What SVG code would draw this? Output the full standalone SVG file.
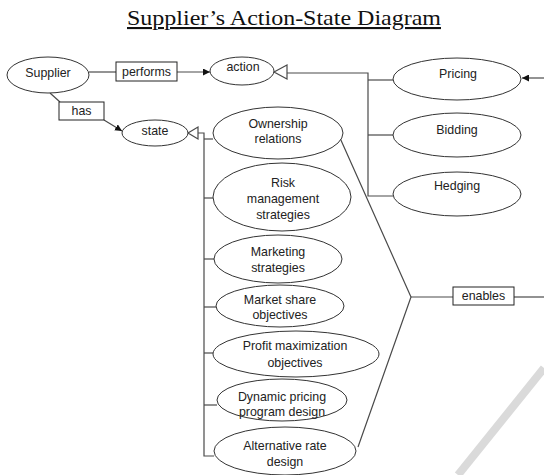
<svg xmlns="http://www.w3.org/2000/svg" width="544" height="475" viewBox="0 0 544 475">
<defs>
<style>
.n ellipse{fill:#fff;stroke:#333;stroke-width:1}
.t{font-family:"Liberation Sans",Arial,sans-serif;font-size:12.4px;fill:#222;text-anchor:middle}
.c line,.c polyline{stroke:#4a4a4a;stroke-width:1.2;fill:none}
.lb rect{fill:#fff;stroke:#222;stroke-width:1}
</style>
<marker id="fa" viewBox="0 0 10 10" refX="10" refY="5" markerWidth="7" markerHeight="7" orient="auto" markerUnits="userSpaceOnUse"><path d="M0,0 L10,5 L0,10 z" fill="#111"/></marker>
</defs>
<rect width="544" height="475" fill="#fff"/>
<line x1="544" y1="368" x2="458" y2="475" stroke="#dadada" stroke-width="8"/>
<text x="284" y="25" font-family="'Liberation Serif','Times New Roman',serif" font-size="21" text-anchor="middle" text-decoration="underline" fill="#111" textLength="314" lengthAdjust="spacingAndGlyphs">Supplier’s Action-State Diagram</text>

<g class="c" id="connectors">
<line x1="89" y1="72" x2="116" y2="72"/>
<line x1="177" y1="72" x2="210" y2="72" marker-end="url(#fa)"/>
<line x1="50" y1="93" x2="60" y2="102"/>
<line x1="104" y1="120" x2="122" y2="131" marker-end="url(#fa)"/>
<polygon points="274,72 287,65 287,79" fill="#fff" stroke="#4a4a4a" stroke-width="1.2"/>
<polyline points="287,73 368,73 368,196 393,196"/>
<line x1="368" y1="80" x2="393" y2="80"/>
<line x1="368" y1="135" x2="393" y2="135"/>
<line x1="544" y1="78" x2="522" y2="78" marker-end="url(#fa)"/>
<polygon points="188,133 198,127 198,139" fill="#fff" stroke="#4a4a4a" stroke-width="1.2"/>
<polyline points="198,133 204,133 204,456 214,456"/>
<line x1="204" y1="139" x2="213" y2="139"/>
<line x1="204" y1="198" x2="213" y2="198"/>
<line x1="204" y1="259" x2="214" y2="259"/>
<line x1="204" y1="307" x2="216" y2="307"/>
<line x1="204" y1="353" x2="213" y2="353"/>
<line x1="204" y1="405" x2="217" y2="405"/>
<polyline points="340,138 411,297 358,447"/>
<line x1="411" y1="297" x2="453" y2="297"/>
<line x1="514" y1="297" x2="544" y2="297"/>
</g>

<g class="lb" id="label-performs"><rect x="116" y="62" width="61" height="19"/><text class="t" x="146.5" y="76">performs</text></g>
<g class="lb" id="label-has"><rect x="59" y="102" width="45" height="18"/><text class="t" x="81.5" y="115">has</text></g>
<g class="lb" id="label-enables"><rect x="453" y="287" width="61" height="18"/><text class="t" x="483.5" y="300">enables</text></g>

<g class="n" id="supplier"><ellipse cx="48" cy="75" rx="41" ry="18"/><text class="t" x="48" y="77">Supplier</text></g>
<g class="n" id="action"><ellipse cx="242" cy="71" rx="32" ry="14"/><text class="t" x="243" y="71">action</text></g>
<g class="n" id="state"><ellipse cx="155" cy="133" rx="33" ry="13"/><text class="t" x="155" y="135">state</text></g>
<g class="n" id="pricing"><ellipse cx="457" cy="79" rx="64" ry="21"/><text class="t" x="458" y="78">Pricing</text></g>
<g class="n" id="bidding"><ellipse cx="457" cy="135" rx="64" ry="22"/><text class="t" x="457" y="134">Bidding</text></g>
<g class="n" id="hedging"><ellipse cx="457" cy="194" rx="64" ry="22"/><text class="t" x="457" y="190">Hedging</text></g>
<g class="n" id="ownership"><ellipse cx="278" cy="133" rx="65" ry="26"/><text class="t" x="278" y="128">Ownership</text><text class="t" x="278" y="143">relations</text></g>
<g class="n" id="risk"><ellipse cx="282" cy="197" rx="69" ry="34"/><text class="t" x="283" y="187">Risk</text><text class="t" x="283" y="203">management</text><text class="t" x="283" y="219">strategies</text></g>
<g class="n" id="marketing"><ellipse cx="278" cy="259" rx="64" ry="24"/><text class="t" x="278" y="256">Marketing</text><text class="t" x="278" y="272">strategies</text></g>
<g class="n" id="marketshare"><ellipse cx="280" cy="306" rx="64" ry="21"/><text class="t" x="280" y="304">Market share</text><text class="t" x="280" y="319">objectives</text></g>
<g class="n" id="profit"><ellipse cx="296" cy="354" rx="83" ry="23"/><text class="t" x="295" y="350">Profit maximization</text><text class="t" x="295" y="367">objectives</text></g>
<g class="n" id="dynamic"><ellipse cx="282" cy="400" rx="65" ry="21"/><text class="t" x="282" y="401">Dynamic pricing</text><text class="t" x="282" y="416">program design</text></g>
<g class="n" id="alternative"><ellipse cx="285" cy="451" rx="71" ry="24"/><text class="t" x="285" y="450">Alternative rate</text><text class="t" x="285" y="466">design</text></g>
</svg>
